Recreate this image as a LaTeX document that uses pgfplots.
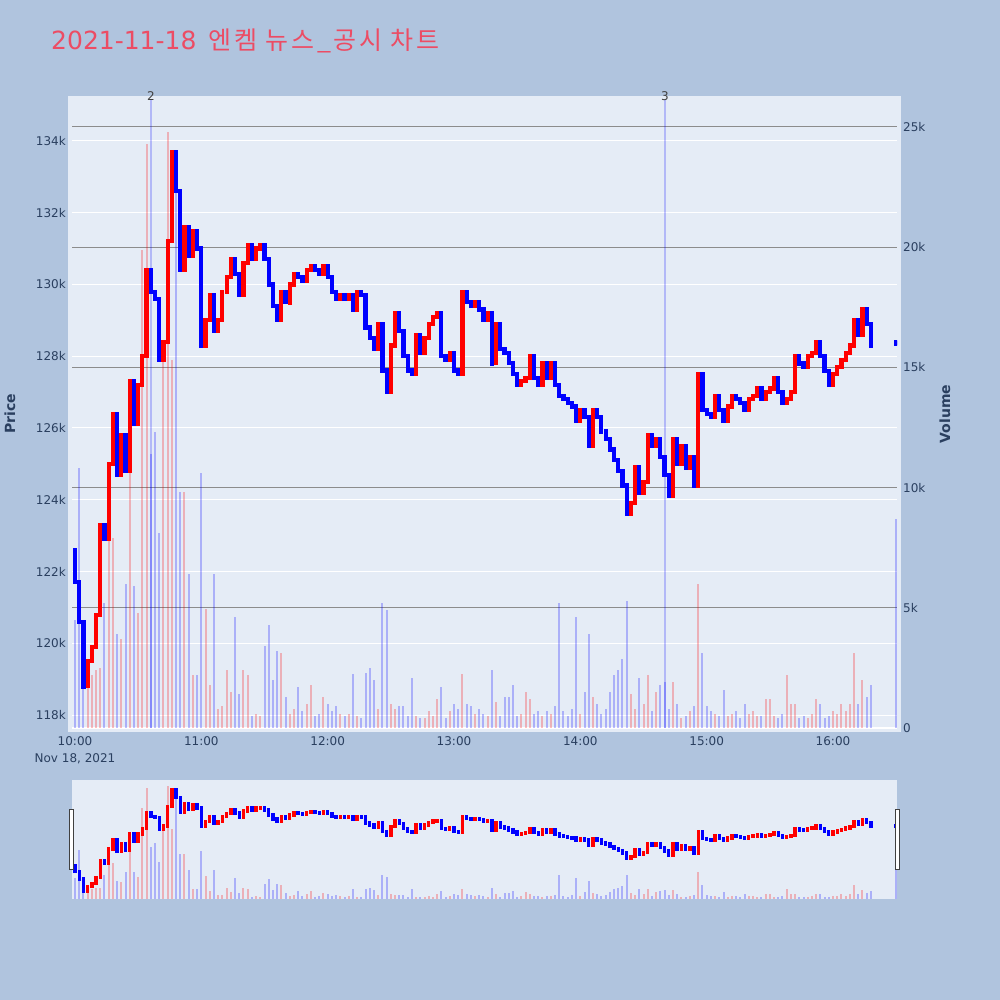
\documentclass[border=0pt]{standalone}
\usepackage{fontspec}
\setmainfont{DejaVu Sans}
\newfontfamily\kr[LetterSpace=11]{Noto Sans CJK KR}
\usepackage{pgfplots}
\usepackage{pgfplotstable}
\pgfplotsset{compat=1.18}

\definecolor{pagebg}{RGB}{176,196,222}
\definecolor{plotbg}{RGB}{229,236,246}
\definecolor{ink}{RGB}{42,63,95}
\definecolor{titlered}{RGB}{236,76,100}
\definecolor{vgrid}{RGB}{140,140,140}

% 2-minute candles, minutes after 10:00; o = open, c = close, v = volume
\pgfplotstableread{
t o c v
0 122600 121700 4500
2 121700 120600 10800
4 120600 118800 1800
6 118800 119500 2000
8 119500 119900 2200
10 119900 120800 2400
12 120800 123300 2500
14 123300 122900 5200
16 122900 125000 8000
18 125000 126400 7900
20 126400 124700 3900
22 124700 125800 3700
24 125800 124800 6000
26 124800 127300 10800
28 127300 126100 5900
30 126100 127200 4800
32 127200 128000 19900
34 128000 130400 24300
36 130400 129800 11400
38 129800 129600 12300
40 129600 127900 8100
42 127900 128400 15800
44 128400 131200 24800
46 131200 133700 15300
48 133700 132600 22800
50 132600 130400 9800
52 130400 131600 9800
54 131600 130800 6400
56 130800 131500 2200
58 131500 131000 2200
60 131000 128300 10600
62 128300 129000 4950
64 129000 129700 1800
66 129700 128700 6400
68 128700 129000 800
70 129000 129800 900
72 129800 130200 2400
74 130200 130700 1500
76 130700 130300 4600
78 130300 129700 1400
80 129700 130600 2400
82 130600 131100 2200
84 131100 130700 500
86 130700 131000 600
88 131000 131100 500
90 131100 130700 3400
92 130700 130000 4300
94 130000 129400 2000
96 129400 129000 3200
98 129000 129800 3100
100 129800 129500 1300
102 129500 130000 600
104 130000 130300 800
106 130300 130200 1700
108 130200 130100 700
110 130100 130400 1000
112 130400 130500 1800
114 130500 130400 500
116 130400 130300 600
118 130300 130500 1300
120 130500 130200 1000
122 130200 129800 700
124 129800 129600 900
126 129600 129700 600
128 129700 129600 500
130 129600 129700 600
132 129700 129300 2250
134 129300 129800 500
136 129800 129700 400
138 129700 128800 2300
140 128800 128500 2500
142 128500 128200 2000
144 128200 128900 800
146 128900 127600 5200
148 127600 127000 4900
150 127000 128300 1000
152 128300 129200 800
154 129200 128700 900
156 128700 128000 900
158 128000 127600 500
160 127600 127500 2100
162 127500 128600 500
164 128600 128100 400
166 128100 128500 400
168 128500 128900 700
170 128900 129100 500
172 129100 129200 1200
174 129200 128000 1700
176 128000 127900 400
178 127900 128100 700
180 128100 127600 1000
182 127600 127500 800
184 127500 129800 2250
186 129800 129500 1000
188 129500 129400 900
190 129400 129500 600
192 129500 129300 800
194 129300 129000 600
196 129000 129200 500
198 129200 127800 2400
200 127800 128900 1100
202 128900 128200 500
204 128200 128100 1300
206 128100 127800 1300
208 127800 127500 1800
210 127500 127200 500
212 127200 127300 600
214 127300 127400 1500
216 127400 128000 1200
218 128000 127400 600
220 127400 127200 700
222 127200 127800 500
224 127800 127400 700
226 127400 127800 600
228 127800 127200 900
230 127200 126900 5200
232 126900 126800 700
234 126800 126700 500
236 126700 126600 800
238 126600 126200 4600
240 126200 126500 600
242 126500 126300 1500
244 126300 125500 3900
246 125500 126500 1300
248 126500 126300 1000
250 126300 125900 600
252 125900 125700 800
254 125700 125400 1500
256 125400 125100 2200
258 125100 124800 2400
260 124800 124400 2850
262 124400 123600 5300
264 123600 123900 1400
266 123900 124900 800
268 124900 124200 2100
270 124200 124500 1000
272 124500 125800 2200
274 125800 125500 700
276 125500 125700 1500
278 125700 125200 1800
280 125200 124700 1900
282 124700 124100 800
284 124100 125700 1900
286 125700 125000 1000
288 125000 125500 400
290 125500 124900 500
292 124900 125200 700
294 125200 124400 900
296 124400 127500 6000
298 127500 126500 3100
300 126500 126400 900
302 126400 126300 700
304 126300 126900 600
306 126900 126500 500
308 126500 126200 1600
310 126200 126600 500
312 126600 126900 600
314 126900 126800 700
316 126800 126700 400
318 126700 126500 1000
320 126500 126800 600
322 126800 126900 700
324 126900 127100 500
326 127100 126800 500
328 126800 127000 1200
330 127000 127100 1200
332 127100 127400 500
334 127400 127000 400
336 127000 126700 600
338 126700 126800 2200
340 126800 127000 1000
342 127000 128000 1000
344 128000 127800 400
346 127800 127700 500
348 127700 128000 400
350 128000 128100 600
352 128100 128400 1200
354 128400 128000 1000
356 128000 127600 400
358 127600 127200 500
360 127200 127500 700
362 127500 127700 600
364 127700 127900 1000
366 127900 128100 700
368 128100 128300 1000
370 128300 129000 3100
372 129000 128600 1000
374 128600 129300 2000
376 129300 128900 1300
378 128900 128300 1800
390 128400 128350 8700
}\data

\tikzset{labfont/.style={font=\fontsize{12}{17}\selectfont, text=ink}}

\pgfplotsset{
  frame/.style={scale only axis, width=825pt, anchor=south west,
    xmin=-1.425, xmax=390.4, scaled ticks=false},
  main/.style={frame, height=628pt, at={(72pt,272pt)}},
  mini/.style={frame, height=119pt, at={(72pt,101pt)}, hide axis},
  price/.style={ymin=117640, ymax=135140},
  vol/.style={ymin=0, ymax=26123},
}

\newcommand{\volbars}[1]{%
  \addplot[ycomb, mark=none, draw=red, draw opacity=0.25, line width=#1]
    table[x=t, y expr={\thisrow{c}>\thisrow{o} ? \thisrow{v} : nan}] {\data};
  \addplot[ycomb, mark=none, draw=blue, draw opacity=0.25, line width=#1]
    table[x=t, y expr={\thisrow{c}>\thisrow{o} ? nan : \thisrow{v}}] {\data};
}
\newcommand{\candles}[1]{%
  \addplot[draw=none, mark=none, error bars/.cd, y dir=both, y explicit,
    error mark=none, error bar style={draw=red, line width=#1, line cap=rect}]
    table[x=t, y expr={\thisrow{c}>\thisrow{o} ? (\thisrow{o}+\thisrow{c})/2 : nan},
      y error expr={abs(\thisrow{c}-\thisrow{o})/2}] {\data};
  \addplot[draw=none, mark=none, error bars/.cd, y dir=both, y explicit,
    error mark=none, error bar style={draw=blue, line width=#1, line cap=rect}]
    table[x=t, y expr={\thisrow{c}>\thisrow{o} ? nan : (\thisrow{o}+\thisrow{c})/2},
      y error expr={abs(\thisrow{c}-\thisrow{o})/2}] {\data};
}

\begin{document}
\begin{tikzpicture}
\fill[pagebg] (0pt,0pt) rectangle (1000pt,1000pt);
\useasboundingbox (0pt,0pt) rectangle (1000pt,1000pt);
\fill[plotbg] (68pt,268pt) rectangle (901pt,904pt);
\fill[plotbg] (72pt,101pt) rectangle (897pt,220pt);

% price grid and labels
\begin{axis}[main, price,
  axis line style={draw=none}, major tick length=0pt,
  ymajorgrids, grid style={white, line width=1pt},
  ytick={118000,120000,...,134000},
  yticklabels={118k,120k,122k,124k,126k,128k,130k,132k,134k},
  xtick={0,60,...,360},
  xticklabels={{10:00\\Nov 18, 2021},11:00,12:00,13:00,14:00,15:00,16:00},
  yticklabel style={labfont, inner sep=0pt, xshift=-6pt},
  xticklabel style={labfont, align=center, anchor=north, inner sep=0pt, yshift=-8pt},
]
\addplot[draw=none] coordinates {(0,120000)};
\end{axis}

% volume axis
\begin{axis}[main, vol,
  axis line style={draw=none}, major tick length=0pt,
  xtick=\empty, yticklabel pos=right,
  ymajorgrids, grid style={vgrid, line width=1pt},
  ytick={5000,10000,...,25000},
  yticklabels={5k,10k,15k,20k,25k},
  extra y ticks={0}, extra y tick labels={0},
  extra y tick style={grid style={white, line width=1.5pt}},
  yticklabel style={labfont, inner sep=0pt, xshift=6pt},
]
\volbars{2pt}
\addplot[blue, opacity=0.22, line width=1.5pt] coordinates {(36.1,0) (36.1,26123)};
\addplot[blue, opacity=0.22, line width=1.5pt] coordinates {(280.2,0) (280.2,26123)};
\end{axis}

% candles
\begin{axis}[main, price, hide axis]
\candles{4.2pt}
\end{axis}

% range slider
\begin{axis}[mini, vol]
\volbars{2pt}
\end{axis}
\begin{axis}[mini, price]
\candles{3.4pt}
\end{axis}
\filldraw[fill=white, draw=black!75, line width=1pt] (69.3pt,130pt) rectangle (73.3pt,190pt);
\filldraw[fill=white, draw=black!75, line width=1pt] (895.3pt,130pt) rectangle (899.3pt,190pt);

\node[labfont, text=black!75] at (151pt,904pt) {2};
\node[labfont, text=black!75] at (665pt,904pt) {3};
\node[anchor=base west, inner sep=0pt, text=titlered, font=\fontsize{25}{30}\selectfont]
  at (51pt,950pt) {2021-11-18\hspace{4pt} {\kr 엔켐 뉴스\_공시 차트}};
\node[rotate=90, text=ink, font=\bfseries\fontsize{14}{17}\selectfont] at (10pt,586pt) {Price};
\node[rotate=90, text=ink, font=\bfseries\fontsize{14}{17}\selectfont] at (945pt,586pt) {Volume};
\end{tikzpicture}
\end{document}
